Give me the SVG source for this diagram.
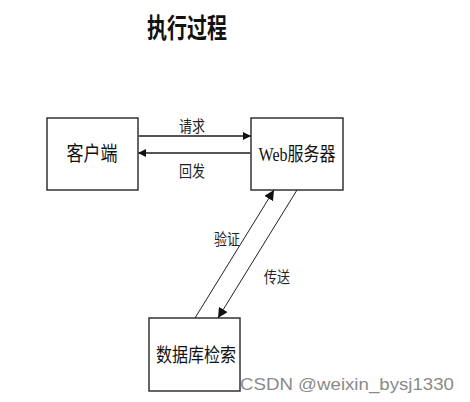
<svg xmlns="http://www.w3.org/2000/svg" width="470" height="402" viewBox="0 0 470 402">
<defs>
<marker id="ah" viewBox="0 0 10 10" refX="10" refY="5" markerWidth="8" markerHeight="8" markerUnits="userSpaceOnUse" orient="auto">
<path d="M0,0 L10,5 L0,10 z" fill="#111"/>
</marker>
<marker id="ah2" viewBox="0 0 10 10" refX="10" refY="5" markerWidth="10" markerHeight="10" markerUnits="userSpaceOnUse" orient="auto">
<path d="M0,0 L10,5 L0,10 z" fill="#111"/>
</marker>
</defs>
<style>
.box{fill:#fff;stroke:#333;stroke-width:1.5}
.t{font-family:"Liberation Serif","Noto Sans CJK SC",serif;fill:#111;text-anchor:middle}
.lbl{font-family:"Liberation Serif","Noto Sans CJK SC",serif;fill:#222;text-anchor:middle;font-size:13px}
.h{stroke:#555;stroke-width:2;fill:none}
.d{stroke:#222;stroke-width:1;fill:none}
</style>
<rect width="470" height="402" fill="#fff"/>
<text class="t" transform="translate(187,38) scale(1,1.35)" font-size="20" font-weight="bold">执行过程</text>
<g id="client">
<rect class="box" x="47" y="118" width="91" height="72"/>
<text class="t" transform="translate(92,161) scale(1,1.2)" font-size="17">客户端</text>
</g>
<g id="web">
<rect class="box" x="251" y="118" width="92" height="72"/>
<text class="t" transform="translate(297,161) scale(1,1.2)" font-size="16">Web服务器</text>
</g>
<g id="db">
<rect class="box" x="149" y="318" width="91" height="73"/>
<text class="t" transform="translate(196,362) scale(1,1.2)" font-size="16">数据库检索</text>
</g>
<g id="connectors">
<line class="h" x1="138" y1="136" x2="251" y2="136" marker-end="url(#ah)"/>
<line class="h" x1="251" y1="153" x2="138" y2="153" marker-end="url(#ah)"/>
<line class="d" x1="195" y1="318" x2="274" y2="190" marker-end="url(#ah2)"/>
<line class="d" x1="297" y1="190" x2="218" y2="318" marker-end="url(#ah2)"/>
<text class="lbl" transform="translate(192,132) scale(1,1.2)">请求</text>
<text class="lbl" transform="translate(192,177) scale(1,1.2)">回发</text>
<text class="lbl" transform="translate(227,245) scale(1,1.2)">验证</text>
<text class="lbl" transform="translate(277,283) scale(1,1.2)">传送</text>
</g>
<text x="240" y="390" font-family="Liberation Sans,Arial,sans-serif" font-size="17" textLength="214" lengthAdjust="spacingAndGlyphs" fill="#8a8a8a">CSDN @weixin_bysj1330</text>
</svg>
